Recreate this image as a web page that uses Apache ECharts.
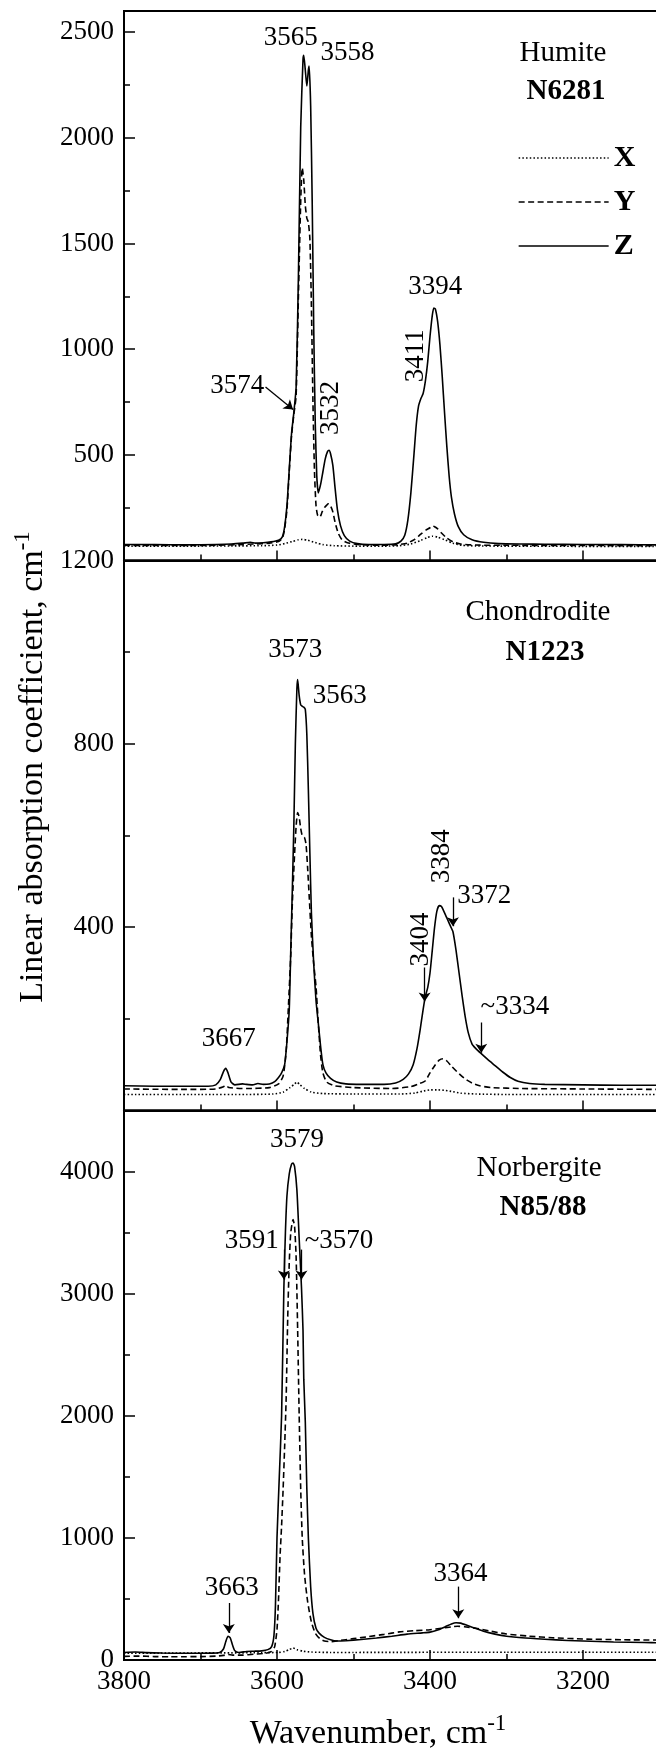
<!DOCTYPE html>
<html>
<head>
<meta charset="utf-8">
<script src="https://cdn.jsdelivr.net/npm/echarts@6.0.0/dist/echarts.min.js"></script>
<style>
  html, body { margin: 0; padding: 0; background: #ffffff; }
  #chart { width: 656px; height: 1752px; }
</style>
</head>
<body>
<div id="chart"></div>
<script>
// ---- Spectra: [wavenumber cm-1, linear absorption coefficient cm-1] ----

// Humite N6281
const humiteX = [[3800,68],[3720,68],[3660,69],[3620,70],[3600,73],[3590,80],[3580,90],[3572,98],[3567,100],[3560,96],[3550,85],[3540,75],[3525,70],[3500,68],[3460,68],[3440,70],[3425,78],[3412,95],[3404,108],[3397,115],[3390,111],[3380,97],[3370,82],[3358,72],[3340,69],[3300,68],[3200,67],[3100,67]];
const humiteY = [[3800,72],[3760,71],[3720,71],[3680,72],[3650,75],[3630,78],[3610,82],[3598,90],[3593,105],[3590,150],[3587,240],[3584,420],[3581,590],[3578,690],[3575,780],[3572,1250],[3569,1700],[3567,1858],[3565,1800],[3563,1680],[3561,1620],[3559,1600],[3557,1520],[3555,1200],[3553,750],[3551,420],[3549,260],[3547,215],[3544,205],[3541,230],[3538,250],[3535,262],[3533,268],[3530,258],[3527,230],[3524,180],[3520,130],[3515,98],[3508,84],[3495,76],[3470,72],[3445,74],[3430,82],[3420,100],[3412,125],[3405,145],[3400,155],[3397,164],[3394,160],[3390,150],[3385,130],[3378,106],[3370,88],[3360,78],[3340,73],[3300,72],[3200,71],[3100,70]];
const humiteZ = [[3800,76],[3760,75],[3720,74],[3680,76],[3660,78],[3645,82],[3635,86],[3628,82],[3618,84],[3608,88],[3598,96],[3593,112],[3590,160],[3587,260],[3584,430],[3581,600],[3578,700],[3575,820],[3572,1350],[3569,2050],[3566,2370],[3565,2390],[3563,2320],[3561,2245],[3559,2320],[3558,2340],[3556,2150],[3554,1700],[3552,1100],[3550,650],[3548,400],[3546,320],[3543,360],[3540,420],[3537,480],[3534,515],[3532,522],[3530,505],[3527,450],[3524,340],[3521,240],[3517,165],[3512,118],[3505,92],[3495,80],[3480,76],[3460,76],[3445,79],[3438,92],[3433,120],[3429,190],[3425,320],[3421,500],[3418,640],[3415,730],[3412,765],[3409,790],[3406,850],[3403,940],[3400,1060],[3397,1160],[3395,1195],[3393,1190],[3390,1130],[3387,1020],[3384,870],[3381,700],[3378,540],[3375,400],[3372,300],[3368,220],[3363,160],[3356,122],[3345,98],[3330,86],[3310,80],[3280,78],[3250,77],[3200,76],[3150,75],[3100,74]];

// Chondrodite N1223
const chondX = [[3800,35],[3700,35],[3640,35],[3605,36],[3592,40],[3583,50],[3577,58],[3574,62],[3570,56],[3564,48],[3555,40],[3540,37],[3500,36],[3440,36],[3420,38],[3410,42],[3400,45],[3390,45],[3380,44],[3370,41],[3360,38],[3340,36],[3300,35],[3200,35],[3100,35]];
const chondY = [[3800,47],[3720,46],[3680,47],[3670,52],[3667,55],[3663,50],[3640,48],[3610,50],[3598,58],[3592,75],[3588,130],[3585,230],[3582,340],[3580,450],[3577,560],[3575,620],[3573,650],[3571,640],[3569,615],[3567,600],[3564,595],[3562,580],[3560,530],[3558,470],[3555,380],[3552,320],[3549,270],[3546,190],[3543,120],[3540,82],[3535,62],[3525,54],[3500,50],[3450,48],[3425,52],[3415,58],[3406,65],[3400,82],[3393,100],[3388,110],[3383,113],[3378,108],[3372,97],[3365,85],[3355,70],[3345,60],[3335,54],[3320,50],[3280,48],[3200,47],[3100,46]];
const chondZ = [[3800,54],[3760,53],[3720,53],[3690,53],[3680,56],[3674,68],[3670,85],[3667,92],[3664,82],[3660,62],[3655,56],[3645,58],[3640,57],[3632,56],[3625,59],[3618,57],[3610,58],[3603,63],[3598,72],[3594,82],[3590,100],[3587,150],[3584,220],[3582,350],[3580,480],[3578,620],[3576,800],[3574,920],[3573,940],[3571,905],[3569,885],[3567,882],[3565,880],[3563,875],[3561,820],[3559,700],[3557,560],[3555,430],[3552,320],[3549,240],[3546,190],[3543,140],[3540,100],[3536,82],[3530,70],[3522,62],[3510,58],[3490,57],[3460,57],[3445,60],[3435,68],[3428,80],[3422,100],[3417,135],[3413,175],[3409,220],[3406,250],[3403,268],[3400,300],[3397,350],[3394,400],[3391,435],[3388,447],[3385,445],[3382,435],[3378,420],[3374,405],[3370,390],[3366,350],[3362,300],[3358,250],[3354,205],[3350,170],[3345,145],[3340,135],[3333,124],[3325,112],[3315,98],[3305,84],[3295,72],[3285,64],[3270,59],[3250,57],[3200,56],[3150,55],[3100,55]];

// Norbergite N85/88
const norbX = [[3800,55],[3750,56],[3700,58],[3660,58],[3620,60],[3598,62],[3590,70],[3584,85],[3579,98],[3574,85],[3566,72],[3555,65],[3530,62],[3500,62],[3400,63],[3300,64],[3200,64],[3100,64]];
const norbY = [[3800,30],[3780,32],[3760,28],[3740,26],[3720,27],[3700,28],[3680,32],[3670,38],[3664,45],[3658,40],[3645,40],[3630,48],[3615,55],[3607,70],[3603,110],[3600,250],[3598,500],[3596,850],[3594,1100],[3592,1400],[3590,1750],[3588,2150],[3586,2800],[3584,3250],[3582,3500],[3579,3607],[3577,3550],[3575,3300],[3573,2700],[3571,2000],[3569,1400],[3567,1000],[3564,700],[3560,480],[3555,310],[3550,220],[3544,175],[3538,155],[3530,150],[3520,158],[3500,175],[3480,192],[3460,210],[3440,230],[3420,240],[3400,248],[3385,260],[3370,273],[3364,276],[3355,272],[3340,260],[3320,235],[3300,213],[3270,195],[3240,182],[3200,172],[3150,166],[3100,163]];
const norbZ = [[3800,62],[3785,66],[3770,60],[3750,57],[3720,55],[3700,55],[3685,56],[3675,62],[3670,90],[3667,150],[3664,195],[3661,180],[3658,120],[3655,75],[3650,62],[3640,70],[3630,72],[3620,75],[3612,85],[3607,110],[3604,200],[3602,450],[3600,1000],[3597,1500],[3594,2000],[3591,3050],[3589,3500],[3587,3800],[3584,3980],[3581,4060],[3579,4070],[3577,4040],[3574,3850],[3571,3450],[3568,3050],[3566,2700],[3565,2300],[3563,1950],[3561,1400],[3559,1000],[3556,600],[3553,380],[3549,260],[3545,220],[3538,185],[3530,165],[3522,155],[3510,158],[3490,168],[3470,180],[3450,195],[3430,212],[3410,222],[3400,228],[3390,245],[3380,272],[3372,295],[3366,305],[3360,302],[3350,280],[3340,258],[3330,235],[3315,212],[3300,195],[3280,182],[3250,170],[3220,160],[3200,156],[3160,148],[3120,143],[3100,141]];

// ---- Peak labels: [text, wavenumber, coefficient] where the text sits ----
const humiteLabels = [['3565',3582,2475],['3558',3508,2404],['3394',3393,1295],['3411',3419,969],['3532',3529,721],['3574',3652,827]];
const chondLabels = [['3573',3576,1004],['3563',3518,904],['3667',3663,157],['3404',3412,373],['3384',3385,555],['3372',3329,469],['~3334',3289,225]];
const norbLabels = [['3579',3574,4262],['3591',3633,3434],['~3570',3519,3430],['3663',3659,594],['3364',3360,705]];

// ---- Arrows: [[from wavenumber, from coefficient], [to wavenumber, to coefficient]] ----
const humiteArrows = [[[3615,821],[3579,714]]];
const chondArrows = [[[3407,312],[3407,238]],[[3370,465],[3370,402]],[[3333,192],[3333,126]]];
const norbArrows = [[[3591,3361],[3591,3115]],[[3568,3361],[3568,3115]],[[3663,467],[3663,221]],[[3363,601],[3363,342]]];

// ---- Axis scales ----
const wavenumberRange = [3000, 3800];
const panelRanges = [[0, 2600], [0, 1200], [0, 4500]];
const panelSteps = [500, 400, 1000];
const panelMinorSteps = [250, 200, 500];

// ---- Panel captions ----
const panelNames = ['Humite', 'Chondrodite', 'Norbergite'];
const panelSamples = ['N6281', 'N1223', 'N85/88'];

// ---------------------------------------------------------------------
const FONT = "'Liberation Serif', 'Times New Roman', serif";
const BLACK = '#000000';
const rotatedLabels = new Set(['3411', '3532', '3404', '3384']);
const dashes = { X: [1.5, 2.2], Y: [6, 3.5], Z: 'solid' };

const gridBoxes = [
  { top: 11, height: 549.5 },
  { top: 560.5, height: 550 },
  { top: 1110.5, height: 549.5 }
];

const grid = gridBoxes.map(b => ({
  left: 124, right: -80, top: b.top, height: b.height,
  show: true, borderColor: BLACK, borderWidth: 2, backgroundColor: 'transparent',
  containLabel: false, outerBoundsMode: 'none'
}));

const xAxis = gridBoxes.map((b, i) => ({
  type: 'value', gridIndex: i, position: 'bottom', inverse: true,
  min: wavenumberRange[0], max: wavenumberRange[1], interval: 200,
  axisLine: { show: true, onZero: false, lineStyle: { color: BLACK, width: 2 } },
  axisTick: { show: true, inside: true, length: 10, lineStyle: { color: BLACK, width: 1.5 } },
  minorTick: { show: true, splitNumber: 2, length: 6, lineStyle: { color: BLACK, width: 1.5 } },
  splitLine: { show: false }, minorSplitLine: { show: false },
  axisLabel: {
    show: i === 2, margin: 8, color: BLACK, fontSize: 27, fontFamily: FONT,
    formatter: v => (v > 3000 && v <= 3800) ? String(v) : ''
  }
}));

const yAxis = [];
panelRanges.forEach((r, i) => {
  const step = panelSteps[i];
  yAxis.push({
    type: 'value', gridIndex: i, position: 'left',
    min: r[0], max: r[1], interval: step,
    axisLine: { show: true, onZero: false, lineStyle: { color: BLACK, width: 2 } },
    axisTick: { show: true, inside: true, length: 11, lineStyle: { color: BLACK, width: 1.5 } },
    splitLine: { show: false },
    axisLabel: {
      margin: 10, color: BLACK, fontSize: 27, fontFamily: FONT,
      formatter: v => {
        if (v % step !== 0) return '';
        if (v === 0 && i < 2) return '';
        return String(v);
      }
    }
  });
  yAxis.push({
    type: 'value', gridIndex: i, position: 'left',
    min: r[0], max: r[1], interval: panelMinorSteps[i],
    axisLine: { show: false, onZero: false },
    axisTick: { show: true, inside: true, length: 6, lineStyle: { color: BLACK, width: 1.5 } },
    splitLine: { show: false },
    axisLabel: { show: false }
  });
});

function spectrum(name, data, gi) {
  return {
    type: 'line', name: name, data: data,
    xAxisIndex: gi, yAxisIndex: gi * 2,
    symbol: 'none', showSymbol: false, smooth: 0.2, silent: true,
    lineStyle: { color: BLACK, width: 1.6, type: dashes[name] },
    itemStyle: { color: BLACK },
    z: 3
  };
}

function annotations(labels, arrows, gi) {
  return {
    type: 'scatter', xAxisIndex: gi, yAxisIndex: gi * 2,
    symbolSize: 1, silent: true, z: 4,
    itemStyle: { color: 'rgba(0,0,0,0)' },
    label: {
      show: true, position: 'inside', color: BLACK, fontSize: 27, fontFamily: FONT,
      textBorderWidth: 0, textShadowBlur: 0, opacity: 1,
      formatter: p => p.name
    },
    data: labels.map(l => ({
      name: l[0], value: [l[1], l[2]],
      label: { rotate: rotatedLabels.has(l[0]) ? 90 : 0 }
    })),
    markLine: {
      silent: true, animation: false,
      symbol: ['none', 'arrow'], symbolSize: 9,
      label: { show: false },
      lineStyle: { color: BLACK, width: 1.3, type: 'solid' },
      emphasis: { disabled: true },
      data: arrows.map(a => [{ coord: a[0] }, { coord: a[1] }])
    }
  };
}

const series = [
  spectrum('X', humiteX, 0), spectrum('Y', humiteY, 0), spectrum('Z', humiteZ, 0),
  spectrum('X', chondX, 1), spectrum('Y', chondY, 1), spectrum('Z', chondZ, 1),
  spectrum('X', norbX, 2), spectrum('Y', norbY, 2), spectrum('Z', norbZ, 2),
  annotations(humiteLabels, humiteArrows, 0),
  annotations(chondLabels, chondArrows, 1),
  annotations(norbLabels, norbArrows, 2)
];

// Panel captions and axis titles
const captionPos = [[563, 53, 566, 92], [538, 612, 545, 653], [539, 1168, 543, 1208]];
const graphic = [];
captionPos.forEach((p, i) => {
  graphic.push({
    type: 'text', x: p[0], y: p[1], silent: true,
    style: { text: panelNames[i], fill: BLACK, font: '29px ' + FONT, textAlign: 'center', textVerticalAlign: 'middle' }
  });
  graphic.push({
    type: 'text', x: p[2], y: p[3], silent: true,
    style: { text: panelSamples[i], fill: BLACK, font: 'bold 29px ' + FONT, textAlign: 'center', textVerticalAlign: 'middle' }
  });
});
const titleRich = {
  a: { fontSize: 34, fontFamily: FONT, color: BLACK },
  s: { fontSize: 23, fontFamily: FONT, color: BLACK, padding: [0, 0, 20, 0] }
};
graphic.push({
  type: 'text', x: 33, y: 767, rotation: Math.PI / 2, silent: true,
  style: { text: '{a|Linear absorption coefficient, cm}{s|-1}', rich: titleRich, fill: BLACK,
           font: '34px ' + FONT, textAlign: 'center', textVerticalAlign: 'middle' }
});
graphic.push({
  type: 'text', x: 378, y: 1734, silent: true,
  style: { text: '{a|Wavenumber, cm}{s|-1}', rich: titleRich, fill: BLACK,
           font: '34px ' + FONT, textAlign: 'center', textVerticalAlign: 'middle' }
});

const chart = echarts.init(document.getElementById('chart'), null, { renderer: 'canvas' });
chart.setOption({
  animation: false,
  backgroundColor: '#ffffff',
  grid: grid,
  xAxis: xAxis,
  yAxis: yAxis,
  legend: {
    data: ['X', 'Y', 'Z'],
    orient: 'vertical', left: 518, top: 143, padding: 0,
    itemWidth: 90, itemHeight: 14, itemGap: 14,
    selectedMode: false,
    itemStyle: { opacity: 0, borderWidth: 0 },
    lineStyle: { width: 1.3 },
    textStyle: { color: BLACK, fontSize: 30, fontWeight: 'bold', fontFamily: FONT, lineHeight: 30 }
  },
  series: series,
  graphic: graphic
});
</script>
</body>
</html>
